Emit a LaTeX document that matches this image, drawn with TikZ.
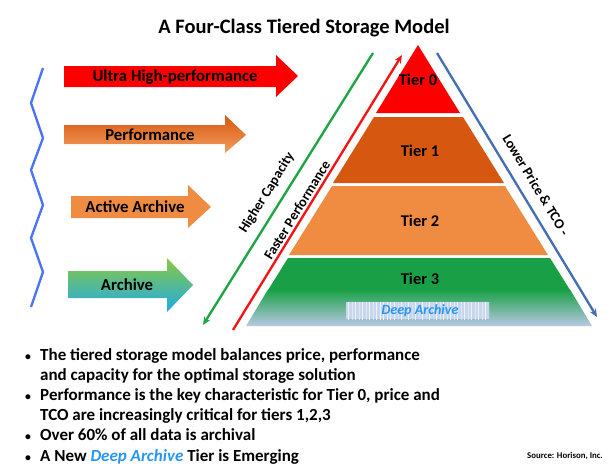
\documentclass[tikz,border=0pt]{standalone}
\usepackage{fontspec}
\setmainfont{Carlito}
\usepackage{tikz}
\usetikzlibrary{arrows.meta,positioning,patterns}

\definecolor{tierred}{RGB}{252,0,0}
\definecolor{tierdark}{RGB}{214,88,16}
\definecolor{tierlight}{RGB}{240,140,65}
\definecolor{tiergreen}{RGB}{25,160,70}
\definecolor{basegray}{RGB}{185,200,228}
\definecolor{lightgreen}{RGB}{140,200,60}
\definecolor{skyblue}{RGB}{30,170,235}
\definecolor{wavyblue}{RGB}{75,115,245}
\definecolor{capgreen}{RGB}{30,165,70}
\definecolor{perfred}{RGB}{245,20,20}
\definecolor{priceblue}{RGB}{70,110,180}
\definecolor{deepblue}{RGB}{40,150,240}
\definecolor{deepfill}{RGB}{200,214,240}

\tikzset{
  title/.style={font=\bfseries\fontsize{17.5}{20}\selectfont, inner sep=0pt},
  arrowlbl/.style={font=\bfseries\fontsize{14.3}{16}\selectfont, inner sep=0pt},
  tierlbl/.style={font=\bfseries\fontsize{14}{16}\selectfont, inner sep=0pt},
  sidelbl/.style={font=\bfseries\fontsize{12}{14}\selectfont, inner sep=0pt},
  bultxt/.style={font=\bfseries\fontsize{14.5}{17}\selectfont, inner sep=0pt, anchor=base west},
  bulmark/.style={font=\bfseries\fontsize{10}{12}\selectfont, inner sep=0pt, anchor=base},
  diag/.style={line width=2pt, -{Stealth[length=7pt,width=6pt]}},
}

\begin{document}
\begin{tikzpicture}[x=0.03cm,y=-0.03cm]
  \useasboundingbox (0,0) rectangle (610,471);

  \node[title] (head) at (304,28) {A Four-Class Tiered Storage Model};

  % wavy line on the left
  \draw[wavyblue, line width=2pt, line join=round]
    (43,68) -- (31,103) -- (43,138) -- (31,170) -- (43,205)
    -- (31,238) -- (43,272) -- (31,307);

  % block arrows
  \fill[tierred] (64,66) -- (276,66) -- (276,55) -- (298,76)
    -- (276,97) -- (276,87) -- (64,87) -- cycle;
  \node[arrowlbl] (uhp) at (175,77) {Ultra High-performance};

  \shade[top color=tierdark, bottom color=tierlight!85] (64,125) -- (225,125) -- (225,115)
    -- (246,135) -- (225,153) -- (225,144) -- (64,144) -- cycle;
  \node[arrowlbl] (perf) at (150,135) {Performance};

  \fill[tierlight] (71,196) -- (188,196) -- (188,185) -- (211,207)
    -- (188,228) -- (188,218) -- (71,218) -- cycle;
  \node[arrowlbl] (active) at (135,207) {Active Archive};

  \shade[top color=lightgreen, middle color=tiergreen, bottom color=skyblue]
    (68,271) -- (167,271) -- (167,258) -- (193,285)
    -- (167,312) -- (167,298) -- (68,298) -- cycle;
  \node[arrowlbl] (arch) at (127,285) {Archive};

  % pyramid
  \fill[tierred] (418,45) -- (460,113) -- (376,113) -- cycle;
  \fill[tierdark] (374,117) -- (463,117) -- (504,183) -- (333,183) -- cycle;
  \fill[tierlight] (332,186) -- (505,186) -- (548,255) -- (289,255) -- cycle;
  \fill[tiergreen] (288,258) -- (550,258) -- (570,290) -- (268,290) -- cycle;
  \shade[top color=tiergreen, bottom color=basegray]
    (268,289.5) -- (570,289.5) -- (592,326) -- (246,326) -- cycle;

  \node[tierlbl] (t0) at (418,80) {Tier 0};
  \node[tierlbl] (t1) at (420,151) {Tier 1};
  \node[tierlbl] (t2) at (420,221) {Tier 2};
  \node[tierlbl] (t3) at (420,279) {Tier 3};

  \fill[deepfill] (346,302) rectangle (489,319);
  \fill[pattern=vertical lines, pattern color=white!70!deepfill] (346,302) rectangle (489,319);
  \node[inner sep=0pt, text=deepblue, font=\bfseries\itshape\fontsize{12}{14}\selectfont]
    (deep) at (420,311) {Deep Archive};

  % side arrows
  \coordinate (capTop) at (373,53);
  \coordinate (capEnd) at (203,325);
  \draw[diag, capgreen] (capTop) -- (capEnd);
  \node[sidelbl, rotate=58] (cap) at (267,193) {Higher Capacity};

  \coordinate (perfStart) at (233,330);
  \coordinate (perfEnd) at (402,55);
  \draw[diag, perfred] (perfStart) -- (perfEnd);
  \node[sidelbl, rotate=58.4] (fast) at (297,210) {Faster Performance};

  \coordinate (priceTop) at (437,53);
  \coordinate (priceEnd) at (597,317);
  \draw[diag, priceblue] (priceTop) -- (priceEnd);
  \node[sidelbl, rotate=-58.8] (price) at (536,185) {Lower Price \& TCO -};

  % bullets
  \foreach \yy in {360,400,440,461}
    \node[bulmark] at (28,\yy) {•};
  \node[bultxt] (l1) at (40,360) {The tiered storage model balances price, performance};
  \node[bultxt] (l2) at (40,380) {and capacity for the optimal storage solution};
  \node[bultxt] (l3) at (40,400) {Performance is the key characteristic for Tier 0, price and};
  \node[bultxt] (l4) at (40,420) {TCO are increasingly critical for tiers 1,2,3};
  \node[bultxt] (l5) at (40,440) {Over 60\% of all data is archival};
  \node[bultxt] (l6) at (40,461) {A New \textcolor{deepblue}{\itshape Deep Archive} Tier is Emerging};

  \node[inner sep=0pt, anchor=base west, font=\bfseries\fontsize{7.5}{9}\selectfont]
    (src) at (527,458) {Source: Horison, Inc.};
\end{tikzpicture}
\end{document}
